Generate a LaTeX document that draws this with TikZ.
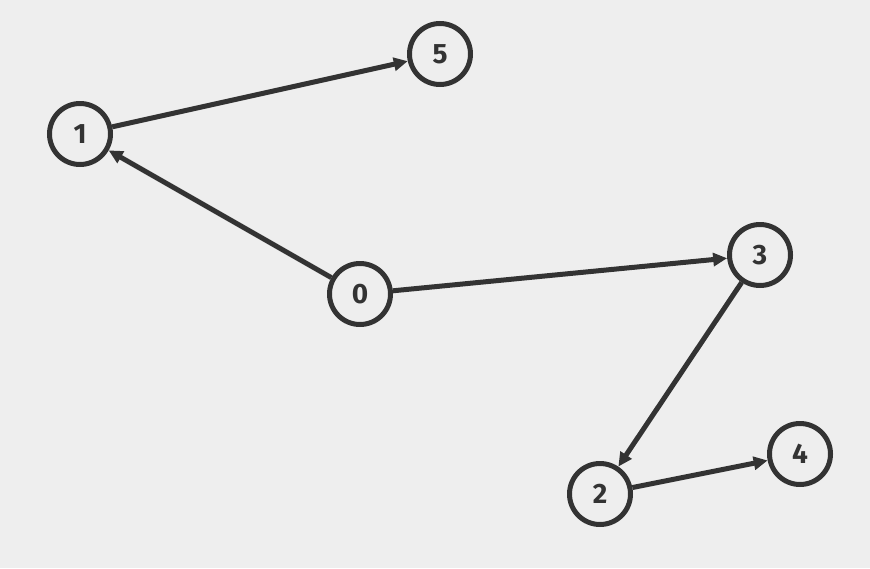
\documentclass[tikz,border=0pt]{standalone}
\usepackage{fontspec}
\setmainfont{Fira Sans}
\usetikzlibrary{arrows.meta}
\definecolor{bg}{HTML}{EEEEEE}
\definecolor{ink}{HTML}{333333}
\begin{document}
\begin{tikzpicture}[x=1pt,y=-1pt,
  vert/.style={circle,draw=ink,line width=5pt,minimum size=61pt,inner sep=0pt,text=ink,font=\fontsize{28}{28}\selectfont\bfseries},
  edge/.style={draw=ink,line width=5pt,-{Triangle[length=14pt,width=13pt]}}]
\fill[bg] (0,0) rectangle (870,568);
\useasboundingbox (0,0) rectangle (870,568);
\node[vert] (n0) at (360,294) {0};
\node[vert] (n1) at (80,134) {1};
\node[vert] (n2) at (600,494) {2};
\node[vert] (n3) at (760,255) {3};
\node[vert] (n4) at (800,454) {4};
\node[vert] (n5) at (440,54) {5};
\draw[edge] (n0) -- (n1);
\draw[edge] (n0) -- (n3);
\draw[edge] (n1) -- (n5);
\draw[edge] (n3) -- (n2);
\draw[edge] (n2) -- (n4);
\end{tikzpicture}
\end{document}
